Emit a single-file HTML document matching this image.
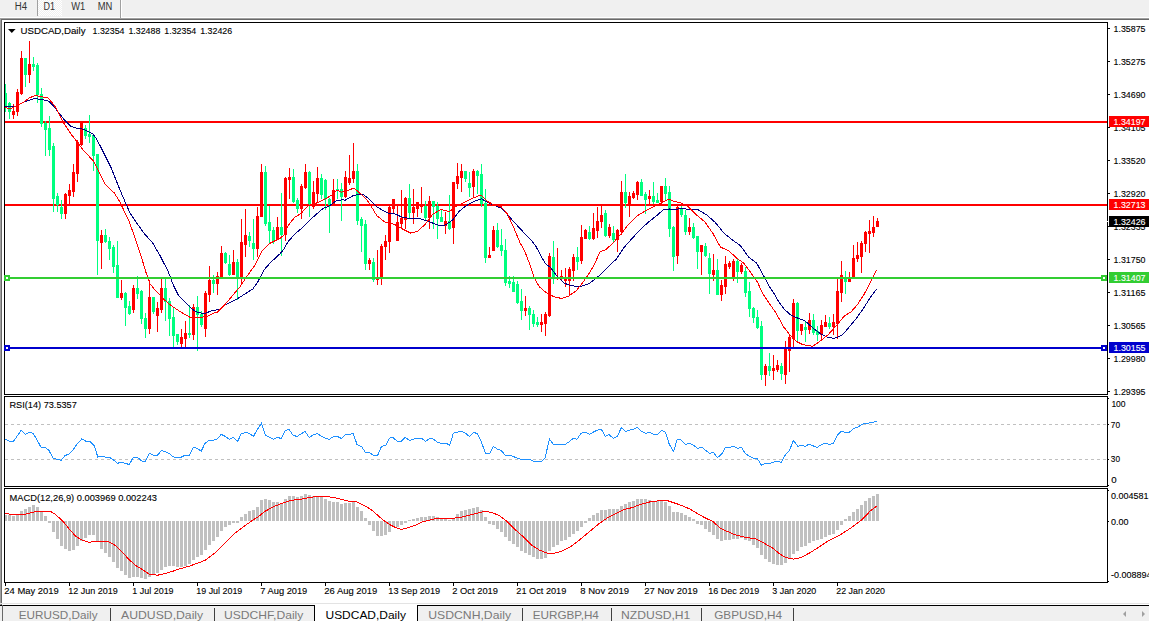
<!DOCTYPE html>
<html><head><meta charset="utf-8"><title>USDCAD,Daily</title>
<style>html,body{margin:0;padding:0;background:#fff;overflow:hidden}body{width:1149px;height:621px}svg{display:block;font-family:"Liberation Sans",sans-serif}text{white-space:pre}</style>
</head><body>
<svg width="1149" height="621" viewBox="0 0 1149 621">
<defs><pattern id="dth" width="2" height="2" patternUnits="userSpaceOnUse"><rect width="2" height="2" fill="#f0f0f0"/><rect width="1" height="1" fill="#fff"/><rect x="1" y="1" width="1" height="1" fill="#fff"/></pattern></defs>
<g shape-rendering="crispEdges">
<rect x="0" y="0" width="1149" height="621" fill="#fff"/>
<rect x="0" y="0" width="1149" height="17" fill="#f0f0f0"/>
<rect x="0" y="17" width="1149" height="1" fill="#ffffff"/>
<rect x="0" y="18" width="1149" height="1" fill="#a0a0a0"/>
<rect x="0" y="19" width="1149" height="1" fill="#696969"/>
<rect x="38" y="0" width="24" height="16" fill="url(#dth)"/>
<rect x="37" y="0" width="1" height="16" fill="#a0a0a0"/>
<rect x="120" y="0" width="1" height="18" fill="#a0a0a0"/>
<rect x="121" y="0" width="1" height="18" fill="#fff"/>
<rect x="0" y="19" width="1" height="586" fill="#a0a0a0"/>
<rect x="1" y="20" width="1" height="585" fill="#696969"/>
<rect x="4" y="22" width="1104" height="1" fill="#000"/>
<rect x="4" y="394" width="1104" height="1" fill="#000"/>
<rect x="4" y="22" width="1" height="373" fill="#000"/>
<rect x="1107" y="22" width="1" height="373" fill="#000"/>
<rect x="4" y="396" width="1104" height="1" fill="#000"/>
<rect x="4" y="486" width="1104" height="1" fill="#000"/>
<rect x="4" y="396" width="1" height="91" fill="#000"/>
<rect x="1107" y="396" width="1" height="91" fill="#000"/>
<rect x="4" y="488" width="1104" height="1" fill="#000"/>
<rect x="4" y="582" width="1104" height="1" fill="#000"/>
<rect x="4" y="488" width="1" height="95" fill="#000"/>
<rect x="1107" y="488" width="1" height="95" fill="#000"/>
<rect x="5" y="121" width="1102" height="2" fill="#ff0000"/>
<rect x="5" y="204" width="1102" height="2" fill="#ff0000"/>
<rect x="5" y="84" width="1" height="28" fill="#00ff7f"/>
<rect x="5" y="93" width="2" height="14" fill="#00ff7f"/>
<rect x="9" y="102" width="1" height="17" fill="#00ff7f"/>
<rect x="8" y="103" width="3" height="9" fill="#00ff7f"/>
<rect x="13" y="104" width="1" height="15" fill="#ff0000"/>
<rect x="12" y="111" width="3" height="4" fill="#ff0000"/>
<rect x="17" y="89" width="1" height="27" fill="#ff0000"/>
<rect x="16" y="92" width="3" height="20" fill="#ff0000"/>
<rect x="21" y="51" width="1" height="44" fill="#ff0000"/>
<rect x="20" y="58" width="3" height="36" fill="#ff0000"/>
<rect x="25" y="58" width="1" height="29" fill="#00ff7f"/>
<rect x="24" y="58" width="3" height="17" fill="#00ff7f"/>
<rect x="29" y="41" width="1" height="42" fill="#ff0000"/>
<rect x="28" y="64" width="3" height="11" fill="#ff0000"/>
<rect x="33" y="57" width="1" height="14" fill="#00ff7f"/>
<rect x="32" y="64" width="3" height="3" fill="#00ff7f"/>
<rect x="37" y="63" width="1" height="40" fill="#00ff7f"/>
<rect x="36" y="65" width="3" height="30" fill="#00ff7f"/>
<rect x="41" y="88" width="1" height="39" fill="#00ff7f"/>
<rect x="40" y="94" width="3" height="30" fill="#00ff7f"/>
<rect x="45" y="121" width="1" height="35" fill="#00ff7f"/>
<rect x="44" y="123" width="3" height="7" fill="#00ff7f"/>
<rect x="49" y="116" width="1" height="40" fill="#00ff7f"/>
<rect x="48" y="128" width="3" height="22" fill="#00ff7f"/>
<rect x="53" y="143" width="1" height="69" fill="#00ff7f"/>
<rect x="52" y="146" width="3" height="53" fill="#00ff7f"/>
<rect x="57" y="193" width="1" height="19" fill="#00ff7f"/>
<rect x="56" y="196" width="3" height="9" fill="#00ff7f"/>
<rect x="61" y="200" width="1" height="19" fill="#00ff7f"/>
<rect x="60" y="207" width="3" height="7" fill="#00ff7f"/>
<rect x="65" y="193" width="1" height="26" fill="#ff0000"/>
<rect x="64" y="194" width="3" height="20" fill="#ff0000"/>
<rect x="69" y="184" width="1" height="21" fill="#ff0000"/>
<rect x="68" y="190" width="3" height="6" fill="#ff0000"/>
<rect x="73" y="164" width="1" height="33" fill="#ff0000"/>
<rect x="72" y="172" width="3" height="20" fill="#ff0000"/>
<rect x="77" y="140" width="1" height="42" fill="#ff0000"/>
<rect x="76" y="142" width="3" height="32" fill="#ff0000"/>
<rect x="81" y="121" width="1" height="25" fill="#ff0000"/>
<rect x="80" y="123" width="3" height="22" fill="#ff0000"/>
<rect x="85" y="125" width="1" height="14" fill="#00ff7f"/>
<rect x="84" y="128" width="3" height="8" fill="#00ff7f"/>
<rect x="89" y="115" width="1" height="28" fill="#00ff7f"/>
<rect x="88" y="134" width="3" height="3" fill="#00ff7f"/>
<rect x="93" y="134" width="1" height="37" fill="#00ff7f"/>
<rect x="92" y="135" width="3" height="21" fill="#00ff7f"/>
<rect x="97" y="154" width="1" height="121" fill="#00ff7f"/>
<rect x="96" y="154" width="3" height="87" fill="#00ff7f"/>
<rect x="101" y="230" width="1" height="39" fill="#ff0000"/>
<rect x="100" y="235" width="3" height="8" fill="#ff0000"/>
<rect x="105" y="229" width="1" height="14" fill="#00ff7f"/>
<rect x="104" y="235" width="3" height="7" fill="#00ff7f"/>
<rect x="109" y="237" width="1" height="23" fill="#00ff7f"/>
<rect x="108" y="241" width="3" height="8" fill="#00ff7f"/>
<rect x="113" y="245" width="1" height="28" fill="#00ff7f"/>
<rect x="112" y="247" width="3" height="20" fill="#00ff7f"/>
<rect x="117" y="241" width="1" height="57" fill="#00ff7f"/>
<rect x="116" y="265" width="3" height="33" fill="#00ff7f"/>
<rect x="121" y="280" width="1" height="20" fill="#ff0000"/>
<rect x="120" y="293" width="3" height="5" fill="#ff0000"/>
<rect x="125" y="292" width="1" height="34" fill="#00ff7f"/>
<rect x="124" y="293" width="3" height="15" fill="#00ff7f"/>
<rect x="129" y="301" width="1" height="14" fill="#00ff7f"/>
<rect x="128" y="306" width="3" height="8" fill="#00ff7f"/>
<rect x="133" y="285" width="1" height="28" fill="#ff0000"/>
<rect x="132" y="288" width="3" height="22" fill="#ff0000"/>
<rect x="137" y="276" width="1" height="23" fill="#00ff7f"/>
<rect x="136" y="288" width="3" height="6" fill="#00ff7f"/>
<rect x="141" y="290" width="1" height="34" fill="#00ff7f"/>
<rect x="140" y="291" width="3" height="28" fill="#00ff7f"/>
<rect x="145" y="313" width="1" height="25" fill="#00ff7f"/>
<rect x="144" y="318" width="3" height="11" fill="#00ff7f"/>
<rect x="149" y="280" width="1" height="54" fill="#ff0000"/>
<rect x="148" y="297" width="3" height="32" fill="#ff0000"/>
<rect x="153" y="297" width="1" height="17" fill="#00ff7f"/>
<rect x="152" y="297" width="3" height="15" fill="#00ff7f"/>
<rect x="157" y="302" width="1" height="30" fill="#ff0000"/>
<rect x="156" y="308" width="3" height="8" fill="#ff0000"/>
<rect x="161" y="279" width="1" height="34" fill="#ff0000"/>
<rect x="160" y="288" width="3" height="22" fill="#ff0000"/>
<rect x="165" y="279" width="1" height="42" fill="#00ff7f"/>
<rect x="164" y="288" width="3" height="14" fill="#00ff7f"/>
<rect x="169" y="298" width="1" height="38" fill="#00ff7f"/>
<rect x="168" y="301" width="3" height="18" fill="#00ff7f"/>
<rect x="173" y="308" width="1" height="40" fill="#00ff7f"/>
<rect x="172" y="317" width="3" height="19" fill="#00ff7f"/>
<rect x="177" y="334" width="1" height="11" fill="#00ff7f"/>
<rect x="176" y="334" width="3" height="8" fill="#00ff7f"/>
<rect x="181" y="329" width="1" height="19" fill="#ff0000"/>
<rect x="180" y="337" width="3" height="7" fill="#ff0000"/>
<rect x="185" y="321" width="1" height="26" fill="#ff0000"/>
<rect x="184" y="333" width="3" height="6" fill="#ff0000"/>
<rect x="189" y="305" width="1" height="33" fill="#00ff7f"/>
<rect x="188" y="333" width="3" height="2" fill="#00ff7f"/>
<rect x="193" y="304" width="1" height="36" fill="#ff0000"/>
<rect x="192" y="307" width="3" height="28" fill="#ff0000"/>
<rect x="197" y="296" width="1" height="55" fill="#00ff7f"/>
<rect x="196" y="307" width="3" height="8" fill="#00ff7f"/>
<rect x="201" y="311" width="1" height="16" fill="#00ff7f"/>
<rect x="200" y="314" width="3" height="11" fill="#00ff7f"/>
<rect x="205" y="291" width="1" height="46" fill="#ff0000"/>
<rect x="204" y="293" width="3" height="36" fill="#ff0000"/>
<rect x="209" y="266" width="1" height="36" fill="#ff0000"/>
<rect x="208" y="280" width="3" height="15" fill="#ff0000"/>
<rect x="213" y="275" width="1" height="18" fill="#00ff7f"/>
<rect x="212" y="280" width="3" height="4" fill="#00ff7f"/>
<rect x="217" y="272" width="1" height="23" fill="#ff0000"/>
<rect x="216" y="276" width="3" height="8" fill="#ff0000"/>
<rect x="221" y="246" width="1" height="32" fill="#ff0000"/>
<rect x="220" y="253" width="3" height="25" fill="#ff0000"/>
<rect x="225" y="252" width="1" height="12" fill="#00ff7f"/>
<rect x="224" y="253" width="3" height="10" fill="#00ff7f"/>
<rect x="229" y="255" width="1" height="21" fill="#00ff7f"/>
<rect x="228" y="264" width="3" height="11" fill="#00ff7f"/>
<rect x="233" y="250" width="1" height="25" fill="#ff0000"/>
<rect x="232" y="262" width="3" height="13" fill="#ff0000"/>
<rect x="237" y="259" width="1" height="41" fill="#00ff7f"/>
<rect x="236" y="262" width="3" height="17" fill="#00ff7f"/>
<rect x="241" y="219" width="1" height="66" fill="#ff0000"/>
<rect x="240" y="242" width="3" height="36" fill="#ff0000"/>
<rect x="245" y="209" width="1" height="48" fill="#ff0000"/>
<rect x="244" y="235" width="3" height="10" fill="#ff0000"/>
<rect x="249" y="232" width="1" height="15" fill="#00ff7f"/>
<rect x="248" y="236" width="3" height="5" fill="#00ff7f"/>
<rect x="253" y="219" width="1" height="41" fill="#00ff7f"/>
<rect x="252" y="243" width="3" height="6" fill="#00ff7f"/>
<rect x="257" y="207" width="1" height="50" fill="#ff0000"/>
<rect x="256" y="216" width="3" height="33" fill="#ff0000"/>
<rect x="261" y="164" width="1" height="53" fill="#ff0000"/>
<rect x="260" y="172" width="3" height="45" fill="#ff0000"/>
<rect x="265" y="166" width="1" height="60" fill="#00ff7f"/>
<rect x="264" y="172" width="3" height="52" fill="#00ff7f"/>
<rect x="269" y="206" width="1" height="38" fill="#00ff7f"/>
<rect x="268" y="222" width="3" height="9" fill="#00ff7f"/>
<rect x="273" y="227" width="1" height="17" fill="#00ff7f"/>
<rect x="272" y="230" width="3" height="11" fill="#00ff7f"/>
<rect x="277" y="217" width="1" height="23" fill="#ff0000"/>
<rect x="276" y="227" width="3" height="13" fill="#ff0000"/>
<rect x="281" y="193" width="1" height="63" fill="#00ff7f"/>
<rect x="280" y="227" width="3" height="8" fill="#00ff7f"/>
<rect x="285" y="177" width="1" height="64" fill="#ff0000"/>
<rect x="284" y="178" width="3" height="57" fill="#ff0000"/>
<rect x="289" y="168" width="1" height="31" fill="#ff0000"/>
<rect x="288" y="177" width="3" height="3" fill="#ff0000"/>
<rect x="293" y="169" width="1" height="34" fill="#00ff7f"/>
<rect x="292" y="177" width="3" height="25" fill="#00ff7f"/>
<rect x="297" y="198" width="1" height="15" fill="#00ff7f"/>
<rect x="296" y="200" width="3" height="9" fill="#00ff7f"/>
<rect x="301" y="184" width="1" height="35" fill="#ff0000"/>
<rect x="300" y="186" width="3" height="23" fill="#ff0000"/>
<rect x="305" y="164" width="1" height="25" fill="#ff0000"/>
<rect x="304" y="172" width="3" height="16" fill="#ff0000"/>
<rect x="309" y="171" width="1" height="46" fill="#00ff7f"/>
<rect x="308" y="172" width="3" height="32" fill="#00ff7f"/>
<rect x="313" y="181" width="1" height="28" fill="#ff0000"/>
<rect x="312" y="192" width="3" height="15" fill="#ff0000"/>
<rect x="317" y="167" width="1" height="36" fill="#ff0000"/>
<rect x="316" y="178" width="3" height="16" fill="#ff0000"/>
<rect x="321" y="174" width="1" height="25" fill="#00ff7f"/>
<rect x="320" y="178" width="3" height="17" fill="#00ff7f"/>
<rect x="325" y="179" width="1" height="31" fill="#00ff7f"/>
<rect x="324" y="180" width="3" height="19" fill="#00ff7f"/>
<rect x="329" y="198" width="1" height="35" fill="#00ff7f"/>
<rect x="328" y="199" width="3" height="6" fill="#00ff7f"/>
<rect x="333" y="179" width="1" height="27" fill="#ff0000"/>
<rect x="332" y="190" width="3" height="15" fill="#ff0000"/>
<rect x="337" y="179" width="1" height="20" fill="#00ff7f"/>
<rect x="336" y="189" width="3" height="2" fill="#00ff7f"/>
<rect x="341" y="183" width="1" height="38" fill="#00ff7f"/>
<rect x="340" y="189" width="3" height="8" fill="#00ff7f"/>
<rect x="345" y="171" width="1" height="27" fill="#ff0000"/>
<rect x="344" y="177" width="3" height="20" fill="#ff0000"/>
<rect x="349" y="155" width="1" height="30" fill="#ff0000"/>
<rect x="348" y="178" width="3" height="5" fill="#ff0000"/>
<rect x="353" y="143" width="1" height="40" fill="#ff0000"/>
<rect x="352" y="171" width="3" height="8" fill="#ff0000"/>
<rect x="357" y="164" width="1" height="61" fill="#00ff7f"/>
<rect x="356" y="171" width="3" height="50" fill="#00ff7f"/>
<rect x="361" y="217" width="1" height="35" fill="#00ff7f"/>
<rect x="360" y="219" width="3" height="7" fill="#00ff7f"/>
<rect x="365" y="220" width="1" height="50" fill="#00ff7f"/>
<rect x="364" y="224" width="3" height="40" fill="#00ff7f"/>
<rect x="369" y="258" width="1" height="12" fill="#ff0000"/>
<rect x="368" y="260" width="3" height="4" fill="#ff0000"/>
<rect x="373" y="258" width="1" height="24" fill="#00ff7f"/>
<rect x="372" y="262" width="3" height="18" fill="#00ff7f"/>
<rect x="377" y="250" width="1" height="35" fill="#ff0000"/>
<rect x="376" y="278" width="3" height="2" fill="#ff0000"/>
<rect x="381" y="244" width="1" height="41" fill="#ff0000"/>
<rect x="380" y="246" width="3" height="33" fill="#ff0000"/>
<rect x="385" y="235" width="1" height="25" fill="#ff0000"/>
<rect x="384" y="241" width="3" height="6" fill="#ff0000"/>
<rect x="389" y="206" width="1" height="47" fill="#ff0000"/>
<rect x="388" y="207" width="3" height="35" fill="#ff0000"/>
<rect x="393" y="199" width="1" height="14" fill="#ff0000"/>
<rect x="392" y="199" width="3" height="10" fill="#ff0000"/>
<rect x="397" y="206" width="1" height="35" fill="#ff0000"/>
<rect x="396" y="222" width="3" height="19" fill="#ff0000"/>
<rect x="401" y="190" width="1" height="38" fill="#ff0000"/>
<rect x="400" y="218" width="3" height="6" fill="#ff0000"/>
<rect x="405" y="197" width="1" height="32" fill="#ff0000"/>
<rect x="404" y="198" width="3" height="22" fill="#ff0000"/>
<rect x="409" y="184" width="1" height="35" fill="#00ff7f"/>
<rect x="408" y="198" width="3" height="15" fill="#00ff7f"/>
<rect x="413" y="189" width="1" height="35" fill="#ff0000"/>
<rect x="412" y="207" width="3" height="6" fill="#ff0000"/>
<rect x="417" y="202" width="1" height="15" fill="#ff0000"/>
<rect x="416" y="202" width="3" height="7" fill="#ff0000"/>
<rect x="421" y="187" width="1" height="26" fill="#ff0000"/>
<rect x="420" y="204" width="3" height="3" fill="#ff0000"/>
<rect x="425" y="201" width="1" height="20" fill="#00ff7f"/>
<rect x="424" y="206" width="3" height="12" fill="#00ff7f"/>
<rect x="429" y="196" width="1" height="33" fill="#ff0000"/>
<rect x="428" y="201" width="3" height="17" fill="#ff0000"/>
<rect x="433" y="201" width="1" height="28" fill="#00ff7f"/>
<rect x="432" y="201" width="3" height="6" fill="#00ff7f"/>
<rect x="437" y="202" width="1" height="37" fill="#00ff7f"/>
<rect x="436" y="206" width="3" height="13" fill="#00ff7f"/>
<rect x="441" y="210" width="1" height="12" fill="#00ff7f"/>
<rect x="440" y="217" width="3" height="5" fill="#00ff7f"/>
<rect x="445" y="212" width="1" height="22" fill="#ff0000"/>
<rect x="444" y="221" width="3" height="5" fill="#ff0000"/>
<rect x="449" y="195" width="1" height="35" fill="#00ff7f"/>
<rect x="448" y="221" width="3" height="8" fill="#00ff7f"/>
<rect x="453" y="182" width="1" height="62" fill="#ff0000"/>
<rect x="452" y="182" width="3" height="46" fill="#ff0000"/>
<rect x="457" y="163" width="1" height="26" fill="#ff0000"/>
<rect x="456" y="176" width="3" height="8" fill="#ff0000"/>
<rect x="461" y="164" width="1" height="28" fill="#ff0000"/>
<rect x="460" y="171" width="3" height="7" fill="#ff0000"/>
<rect x="465" y="171" width="1" height="11" fill="#00ff7f"/>
<rect x="464" y="171" width="3" height="8" fill="#00ff7f"/>
<rect x="469" y="172" width="1" height="25" fill="#00ff7f"/>
<rect x="468" y="183" width="3" height="5" fill="#00ff7f"/>
<rect x="473" y="169" width="1" height="29" fill="#ff0000"/>
<rect x="472" y="171" width="3" height="16" fill="#ff0000"/>
<rect x="477" y="170" width="1" height="24" fill="#00ff7f"/>
<rect x="476" y="171" width="3" height="5" fill="#00ff7f"/>
<rect x="481" y="164" width="1" height="43" fill="#00ff7f"/>
<rect x="480" y="174" width="3" height="30" fill="#00ff7f"/>
<rect x="485" y="189" width="1" height="74" fill="#00ff7f"/>
<rect x="484" y="203" width="3" height="55" fill="#00ff7f"/>
<rect x="489" y="247" width="1" height="11" fill="#ff0000"/>
<rect x="488" y="255" width="3" height="3" fill="#ff0000"/>
<rect x="493" y="226" width="1" height="25" fill="#ff0000"/>
<rect x="492" y="230" width="3" height="21" fill="#ff0000"/>
<rect x="497" y="223" width="1" height="25" fill="#00ff7f"/>
<rect x="496" y="230" width="3" height="17" fill="#00ff7f"/>
<rect x="501" y="229" width="1" height="27" fill="#00ff7f"/>
<rect x="500" y="245" width="3" height="6" fill="#00ff7f"/>
<rect x="505" y="239" width="1" height="47" fill="#00ff7f"/>
<rect x="504" y="250" width="3" height="33" fill="#00ff7f"/>
<rect x="509" y="276" width="1" height="12" fill="#00ff7f"/>
<rect x="508" y="281" width="3" height="3" fill="#00ff7f"/>
<rect x="513" y="276" width="1" height="16" fill="#00ff7f"/>
<rect x="512" y="282" width="3" height="10" fill="#00ff7f"/>
<rect x="517" y="281" width="1" height="23" fill="#00ff7f"/>
<rect x="516" y="284" width="3" height="19" fill="#00ff7f"/>
<rect x="521" y="289" width="1" height="31" fill="#00ff7f"/>
<rect x="520" y="301" width="3" height="10" fill="#00ff7f"/>
<rect x="525" y="296" width="1" height="20" fill="#ff0000"/>
<rect x="524" y="308" width="3" height="3" fill="#ff0000"/>
<rect x="529" y="306" width="1" height="24" fill="#00ff7f"/>
<rect x="528" y="308" width="3" height="7" fill="#00ff7f"/>
<rect x="533" y="310" width="1" height="17" fill="#00ff7f"/>
<rect x="532" y="314" width="3" height="10" fill="#00ff7f"/>
<rect x="537" y="317" width="1" height="10" fill="#00ff7f"/>
<rect x="536" y="322" width="3" height="3" fill="#00ff7f"/>
<rect x="541" y="314" width="1" height="18" fill="#ff0000"/>
<rect x="540" y="322" width="3" height="3" fill="#ff0000"/>
<rect x="545" y="312" width="1" height="24" fill="#ff0000"/>
<rect x="544" y="314" width="3" height="10" fill="#ff0000"/>
<rect x="549" y="253" width="1" height="64" fill="#ff0000"/>
<rect x="548" y="256" width="3" height="60" fill="#ff0000"/>
<rect x="553" y="241" width="1" height="43" fill="#00ff7f"/>
<rect x="552" y="257" width="3" height="22" fill="#00ff7f"/>
<rect x="557" y="248" width="1" height="32" fill="#ff0000"/>
<rect x="556" y="277" width="3" height="2" fill="#ff0000"/>
<rect x="561" y="270" width="1" height="11" fill="#ff0000"/>
<rect x="560" y="276" width="3" height="3" fill="#ff0000"/>
<rect x="565" y="268" width="1" height="19" fill="#ff0000"/>
<rect x="564" y="278" width="3" height="3" fill="#ff0000"/>
<rect x="569" y="267" width="1" height="28" fill="#ff0000"/>
<rect x="568" y="269" width="3" height="12" fill="#ff0000"/>
<rect x="573" y="254" width="1" height="27" fill="#ff0000"/>
<rect x="572" y="257" width="3" height="14" fill="#ff0000"/>
<rect x="577" y="247" width="1" height="23" fill="#00ff7f"/>
<rect x="576" y="257" width="3" height="5" fill="#00ff7f"/>
<rect x="581" y="225" width="1" height="39" fill="#ff0000"/>
<rect x="580" y="237" width="3" height="24" fill="#ff0000"/>
<rect x="585" y="229" width="1" height="10" fill="#ff0000"/>
<rect x="584" y="230" width="3" height="9" fill="#ff0000"/>
<rect x="589" y="226" width="1" height="14" fill="#00ff7f"/>
<rect x="588" y="232" width="3" height="7" fill="#00ff7f"/>
<rect x="593" y="213" width="1" height="27" fill="#ff0000"/>
<rect x="592" y="228" width="3" height="11" fill="#ff0000"/>
<rect x="597" y="207" width="1" height="31" fill="#ff0000"/>
<rect x="596" y="221" width="3" height="10" fill="#ff0000"/>
<rect x="601" y="206" width="1" height="22" fill="#ff0000"/>
<rect x="600" y="215" width="3" height="7" fill="#ff0000"/>
<rect x="605" y="210" width="1" height="27" fill="#00ff7f"/>
<rect x="604" y="213" width="3" height="23" fill="#00ff7f"/>
<rect x="609" y="224" width="1" height="14" fill="#ff0000"/>
<rect x="608" y="227" width="3" height="9" fill="#ff0000"/>
<rect x="613" y="226" width="1" height="16" fill="#00ff7f"/>
<rect x="612" y="233" width="3" height="7" fill="#00ff7f"/>
<rect x="617" y="229" width="1" height="23" fill="#ff0000"/>
<rect x="616" y="230" width="3" height="10" fill="#ff0000"/>
<rect x="621" y="181" width="1" height="54" fill="#ff0000"/>
<rect x="620" y="192" width="3" height="40" fill="#ff0000"/>
<rect x="625" y="174" width="1" height="34" fill="#00ff7f"/>
<rect x="624" y="192" width="3" height="11" fill="#00ff7f"/>
<rect x="629" y="192" width="1" height="25" fill="#ff0000"/>
<rect x="628" y="196" width="3" height="8" fill="#ff0000"/>
<rect x="633" y="191" width="1" height="8" fill="#ff0000"/>
<rect x="632" y="193" width="3" height="5" fill="#ff0000"/>
<rect x="637" y="181" width="1" height="19" fill="#ff0000"/>
<rect x="636" y="182" width="3" height="13" fill="#ff0000"/>
<rect x="641" y="179" width="1" height="17" fill="#00ff7f"/>
<rect x="640" y="182" width="3" height="14" fill="#00ff7f"/>
<rect x="645" y="192" width="1" height="22" fill="#00ff7f"/>
<rect x="644" y="194" width="3" height="6" fill="#00ff7f"/>
<rect x="649" y="190" width="1" height="16" fill="#ff0000"/>
<rect x="648" y="196" width="3" height="3" fill="#ff0000"/>
<rect x="653" y="182" width="1" height="22" fill="#00ff7f"/>
<rect x="652" y="196" width="3" height="6" fill="#00ff7f"/>
<rect x="657" y="193" width="1" height="10" fill="#00ff7f"/>
<rect x="656" y="200" width="3" height="3" fill="#00ff7f"/>
<rect x="661" y="186" width="1" height="19" fill="#ff0000"/>
<rect x="660" y="186" width="3" height="16" fill="#ff0000"/>
<rect x="665" y="178" width="1" height="23" fill="#00ff7f"/>
<rect x="664" y="186" width="3" height="8" fill="#00ff7f"/>
<rect x="669" y="186" width="1" height="51" fill="#00ff7f"/>
<rect x="668" y="192" width="3" height="37" fill="#00ff7f"/>
<rect x="673" y="226" width="1" height="45" fill="#00ff7f"/>
<rect x="672" y="227" width="3" height="30" fill="#00ff7f"/>
<rect x="677" y="206" width="1" height="58" fill="#ff0000"/>
<rect x="676" y="207" width="3" height="49" fill="#ff0000"/>
<rect x="681" y="206" width="1" height="11" fill="#00ff7f"/>
<rect x="680" y="208" width="3" height="7" fill="#00ff7f"/>
<rect x="685" y="210" width="1" height="25" fill="#00ff7f"/>
<rect x="684" y="215" width="3" height="17" fill="#00ff7f"/>
<rect x="689" y="218" width="1" height="17" fill="#ff0000"/>
<rect x="688" y="227" width="3" height="5" fill="#ff0000"/>
<rect x="693" y="223" width="1" height="16" fill="#00ff7f"/>
<rect x="692" y="227" width="3" height="11" fill="#00ff7f"/>
<rect x="697" y="236" width="1" height="33" fill="#00ff7f"/>
<rect x="696" y="236" width="3" height="16" fill="#00ff7f"/>
<rect x="701" y="245" width="1" height="30" fill="#ff0000"/>
<rect x="700" y="245" width="3" height="7" fill="#ff0000"/>
<rect x="705" y="243" width="1" height="14" fill="#00ff7f"/>
<rect x="704" y="246" width="3" height="10" fill="#00ff7f"/>
<rect x="709" y="253" width="1" height="41" fill="#00ff7f"/>
<rect x="708" y="258" width="3" height="16" fill="#00ff7f"/>
<rect x="713" y="254" width="1" height="27" fill="#ff0000"/>
<rect x="712" y="270" width="3" height="5" fill="#ff0000"/>
<rect x="717" y="259" width="1" height="36" fill="#00ff7f"/>
<rect x="716" y="270" width="3" height="25" fill="#00ff7f"/>
<rect x="721" y="280" width="1" height="21" fill="#ff0000"/>
<rect x="720" y="285" width="3" height="10" fill="#ff0000"/>
<rect x="725" y="256" width="1" height="38" fill="#ff0000"/>
<rect x="724" y="264" width="3" height="23" fill="#ff0000"/>
<rect x="729" y="261" width="1" height="8" fill="#ff0000"/>
<rect x="728" y="263" width="3" height="4" fill="#ff0000"/>
<rect x="733" y="259" width="1" height="22" fill="#ff0000"/>
<rect x="732" y="261" width="3" height="17" fill="#ff0000"/>
<rect x="737" y="259" width="1" height="24" fill="#00ff7f"/>
<rect x="736" y="261" width="3" height="11" fill="#00ff7f"/>
<rect x="741" y="263" width="1" height="11" fill="#ff0000"/>
<rect x="740" y="265" width="3" height="7" fill="#ff0000"/>
<rect x="745" y="267" width="1" height="30" fill="#00ff7f"/>
<rect x="744" y="271" width="3" height="22" fill="#00ff7f"/>
<rect x="749" y="282" width="1" height="35" fill="#00ff7f"/>
<rect x="748" y="291" width="3" height="18" fill="#00ff7f"/>
<rect x="753" y="307" width="1" height="16" fill="#00ff7f"/>
<rect x="752" y="308" width="3" height="10" fill="#00ff7f"/>
<rect x="757" y="310" width="1" height="19" fill="#00ff7f"/>
<rect x="756" y="317" width="3" height="11" fill="#00ff7f"/>
<rect x="761" y="321" width="1" height="59" fill="#00ff7f"/>
<rect x="760" y="326" width="3" height="49" fill="#00ff7f"/>
<rect x="765" y="364" width="1" height="22" fill="#ff0000"/>
<rect x="764" y="366" width="3" height="9" fill="#ff0000"/>
<rect x="769" y="353" width="1" height="23" fill="#00ff7f"/>
<rect x="768" y="366" width="3" height="5" fill="#00ff7f"/>
<rect x="773" y="355" width="1" height="25" fill="#ff0000"/>
<rect x="772" y="368" width="3" height="3" fill="#ff0000"/>
<rect x="777" y="360" width="1" height="12" fill="#ff0000"/>
<rect x="776" y="365" width="3" height="5" fill="#ff0000"/>
<rect x="781" y="363" width="1" height="17" fill="#00ff7f"/>
<rect x="780" y="366" width="3" height="8" fill="#00ff7f"/>
<rect x="785" y="341" width="1" height="43" fill="#ff0000"/>
<rect x="784" y="348" width="3" height="27" fill="#ff0000"/>
<rect x="789" y="335" width="1" height="37" fill="#ff0000"/>
<rect x="788" y="337" width="3" height="14" fill="#ff0000"/>
<rect x="793" y="299" width="1" height="48" fill="#ff0000"/>
<rect x="792" y="303" width="3" height="36" fill="#ff0000"/>
<rect x="797" y="302" width="1" height="40" fill="#00ff7f"/>
<rect x="796" y="303" width="3" height="28" fill="#00ff7f"/>
<rect x="801" y="324" width="1" height="11" fill="#ff0000"/>
<rect x="800" y="324" width="3" height="7" fill="#ff0000"/>
<rect x="805" y="322" width="1" height="20" fill="#00ff7f"/>
<rect x="804" y="327" width="3" height="3" fill="#00ff7f"/>
<rect x="809" y="313" width="1" height="21" fill="#ff0000"/>
<rect x="808" y="320" width="3" height="10" fill="#ff0000"/>
<rect x="813" y="314" width="1" height="21" fill="#00ff7f"/>
<rect x="812" y="320" width="3" height="13" fill="#00ff7f"/>
<rect x="817" y="326" width="1" height="15" fill="#00ff7f"/>
<rect x="816" y="331" width="3" height="4" fill="#00ff7f"/>
<rect x="821" y="320" width="1" height="21" fill="#ff0000"/>
<rect x="820" y="325" width="3" height="10" fill="#ff0000"/>
<rect x="825" y="315" width="1" height="12" fill="#ff0000"/>
<rect x="824" y="322" width="3" height="5" fill="#ff0000"/>
<rect x="829" y="317" width="1" height="12" fill="#00ff7f"/>
<rect x="828" y="323" width="3" height="4" fill="#00ff7f"/>
<rect x="833" y="314" width="1" height="21" fill="#ff0000"/>
<rect x="832" y="322" width="3" height="5" fill="#ff0000"/>
<rect x="837" y="278" width="1" height="61" fill="#ff0000"/>
<rect x="836" y="291" width="3" height="33" fill="#ff0000"/>
<rect x="841" y="261" width="1" height="41" fill="#ff0000"/>
<rect x="840" y="275" width="3" height="18" fill="#ff0000"/>
<rect x="845" y="271" width="1" height="23" fill="#00ff7f"/>
<rect x="844" y="277" width="3" height="5" fill="#00ff7f"/>
<rect x="849" y="272" width="1" height="10" fill="#ff0000"/>
<rect x="848" y="278" width="3" height="4" fill="#ff0000"/>
<rect x="853" y="245" width="1" height="32" fill="#ff0000"/>
<rect x="852" y="258" width="3" height="19" fill="#ff0000"/>
<rect x="857" y="242" width="1" height="20" fill="#ff0000"/>
<rect x="856" y="255" width="3" height="4" fill="#ff0000"/>
<rect x="861" y="241" width="1" height="32" fill="#ff0000"/>
<rect x="860" y="243" width="3" height="14" fill="#ff0000"/>
<rect x="865" y="231" width="1" height="21" fill="#ff0000"/>
<rect x="864" y="232" width="3" height="12" fill="#ff0000"/>
<rect x="869" y="220" width="1" height="33" fill="#ff0000"/>
<rect x="868" y="231" width="3" height="3" fill="#ff0000"/>
<rect x="873" y="216" width="1" height="21" fill="#ff0000"/>
<rect x="872" y="227" width="3" height="6" fill="#ff0000"/>
<rect x="877" y="218" width="1" height="9" fill="#ff0000"/>
<rect x="876" y="221" width="3" height="6" fill="#ff0000"/>
</g>
<polyline points="5.0,107.0 9.7,106.0 16.0,106.0 24.0,102.0 33.8,98.6 41.9,99.4 48.3,101.0 54.8,107.5 64.4,120.0 70.9,126.2 77.3,128.4 83.7,129.3 92.6,133.7 96.6,139.0 103.0,151.4 111.0,167.5 120.0,190.0 124.3,200.0 130.0,213.0 136.4,222.5 144.4,233.8 152.5,242.7 160.5,256.4 168.6,272.5 173.4,285.3 178.2,295.0 183.0,300.0 187.0,303.8 192.6,309.5 198.2,312.7 204.7,313.5 212.7,310.3 219.3,309.7 225.8,304.6 237.0,299.0 246.7,292.8 253.0,288.8 258.0,281.5 264.4,269.5 270.9,262.2 280.5,253.3 284.0,249.0 288.0,241.8 294.4,234.5 300.9,228.9 307.3,222.5 315.3,215.2 322.6,208.8 329.8,205.6 336.3,200.7 342.7,199.8 345.3,200.2 352.5,196.0 357.4,194.6 363.8,195.0 370.3,200.0 376.7,206.7 384.8,211.5 389.6,214.0 394.4,213.6 402.5,217.4 410.5,218.4 420.0,218.7 429.8,222.0 437.9,225.0 445.3,225.0 452.5,220.2 459.0,211.4 465.4,206.2 473.5,201.7 481.5,198.8 488.0,202.5 494.4,205.2 500.9,208.0 507.3,214.6 515.3,223.4 525.0,233.9 531.0,240.0 536.0,246.4 540.9,256.0 545.7,264.0 550.5,267.4 557.0,276.0 563.4,282.7 569.8,285.4 579.5,286.7 586.0,284.8 590.0,283.0 600.0,275.0 610.0,265.0 616.4,259.0 624.4,247.0 632.5,238.0 640.5,229.4 648.6,222.0 656.6,215.7 663.9,209.3 669.5,209.0 674.3,210.0 681.0,208.0 689.0,209.5 698.6,210.0 706.7,215.0 714.8,222.0 724.4,233.6 732.5,240.0 740.5,245.7 748.6,257.0 756.6,263.0 763.0,274.7 769.5,286.8 774.3,294.0 777.3,299.7 783.7,308.5 789.4,314.0 796.6,317.7 804.7,320.6 812.7,327.8 820.3,333.7 828.3,337.8 834.8,338.2 842.0,335.3 847.6,329.0 855.7,319.2 863.7,308.0 870.2,297.5 876.6,289.0" fill="none" stroke="#000080" stroke-width="1" shape-rendering="crispEdges"/>
<polyline points="5.0,107.5 9.7,109.0 16.0,106.0 24.0,102.0 29.0,98.0 35.4,95.4 48.3,98.0 54.8,106.0 63.6,123.0 70.9,134.0 75.0,139.0 83.7,150.6 93.4,161.0 104.7,183.6 114.3,193.0 120.0,202.0 122.7,208.0 128.3,219.3 134.7,237.0 141.2,256.4 146.0,272.5 150.0,283.7 155.7,291.0 160.5,295.0 164.4,299.8 170.9,305.4 180.5,311.9 189.4,317.0 196.6,317.5 206.3,316.7 212.7,313.5 217.7,312.0 224.0,305.7 232.2,296.0 240.3,286.4 246.7,276.7 254.7,265.4 262.0,251.0 269.2,243.7 280.5,238.0 284.0,235.0 288.0,225.7 294.4,217.6 300.9,213.6 307.3,206.4 317.0,202.8 325.0,199.0 333.0,194.3 337.0,189.8 341.0,192.2 347.7,190.6 354.0,188.0 360.6,193.8 367.0,200.0 371.9,207.5 376.7,215.5 384.8,222.0 394.4,224.4 402.5,229.0 410.5,233.0 417.8,231.3 425.0,224.4 433.0,214.0 441.0,209.4 449.3,211.7 455.8,206.5 462.2,203.3 471.9,198.5 480.7,195.0 488.0,201.7 494.4,205.2 500.9,206.5 507.3,213.8 513.7,227.5 520.0,242.8 524.8,251.3 530.4,265.8 534.4,277.8 539.2,286.7 545.7,292.3 553.7,296.7 561.8,298.5 568.2,296.4 576.3,290.7 582.7,282.7 590.0,272.0 594.0,265.0 600.0,252.0 606.0,249.5 613.0,243.0 621.0,234.0 629.0,223.8 637.3,215.7 645.3,210.9 653.4,207.0 661.4,202.8 668.7,199.0 674.3,201.7 680.0,202.4 687.4,206.0 695.4,214.0 705.0,222.0 713.0,233.6 720.4,247.0 729.0,251.0 737.3,258.6 743.7,263.0 750.0,271.5 757.4,282.0 763.0,294.0 767.6,301.0 775.7,312.5 783.7,327.0 790.0,335.0 796.6,341.5 803.0,344.7 812.7,346.3 820.3,341.0 828.3,334.5 836.4,325.7 844.4,316.0 850.9,312.0 857.3,304.8 863.7,295.0 870.2,283.0 876.6,270.0" fill="none" stroke="#ff0000" stroke-width="1" shape-rendering="crispEdges"/>
<g shape-rendering="crispEdges">
<rect x="5" y="277" width="1102" height="2" fill="#32cd32"/>
<rect x="5" y="347" width="1102" height="2" fill="#0000cd"/>
<rect x="4" y="275" width="6" height="6" fill="#32cd32"/>
<rect x="6" y="277" width="2" height="2" fill="#fff"/>
<rect x="1101" y="275" width="6" height="6" fill="#32cd32"/>
<rect x="1103" y="277" width="2" height="2" fill="#fff"/>
<rect x="4" y="345" width="6" height="6" fill="#0000cd"/>
<rect x="6" y="347" width="2" height="2" fill="#fff"/>
<rect x="1101" y="345" width="6" height="6" fill="#0000cd"/>
<rect x="1103" y="347" width="2" height="2" fill="#fff"/>
<line x1="5" y1="424.5" x2="1107" y2="424.5" stroke="#c0c0c0" stroke-width="1" stroke-dasharray="3 3"/>
<line x1="5" y1="459.5" x2="1107" y2="459.5" stroke="#c0c0c0" stroke-width="1" stroke-dasharray="3 3"/>
</g>
<polyline points="5.5,439.0 9.5,441.2 13.4,441.4 17.4,435.8 21.3,430.2 25.2,434.3 29.2,432.2 33.1,433.3 37.0,440.0 41.0,447.2 45.0,447.2 48.9,450.4 53.2,458.2 57.6,459.4 61.2,460.3 65.0,455.6 69.4,453.8 73.3,449.6 77.3,443.7 81.7,439.0 86.0,441.2 89.9,441.4 94.2,445.6 97.8,457.0 101.7,456.2 105.7,457.1 109.6,457.5 113.6,460.1 117.5,463.3 121.5,462.2 125.4,463.3 129.3,464.6 133.3,457.1 137.2,457.1 141.2,460.6 145.1,462.2 149.5,453.2 153.0,455.1 157.4,455.1 161.7,450.4 165.6,451.9 169.6,453.8 173.5,457.0 181.3,457.1 184.8,455.4 189.2,455.4 193.6,447.2 197.0,448.3 201.3,451.1 205.0,443.3 208.9,440.6 212.9,440.4 217.3,439.0 221.2,434.3 225.5,436.5 229.4,439.3 233.4,437.4 237.6,441.4 241.2,433.8 245.2,432.5 249.1,433.3 253.4,436.5 257.0,429.9 261.4,423.5 265.2,434.9 269.3,437.3 273.6,439.3 277.5,437.4 281.2,438.5 285.1,430.6 289.0,429.4 293.0,435.1 296.9,436.5 301.2,433.8 305.1,431.4 309.1,437.4 313.3,434.9 317.3,433.5 321.7,436.6 325.6,438.2 329.3,439.3 333.5,436.5 337.5,436.5 341.4,438.5 345.7,434.3 350.1,434.3 353.2,433.3 357.1,444.8 361.4,446.4 365.3,452.3 369.2,452.4 373.7,455.4 377.6,455.4 381.5,446.4 386.0,445.3 389.4,438.2 392.9,437.4 397.3,441.4 401.3,441.4 405.2,437.4 409.6,440.4 413.9,439.0 417.8,438.2 421.8,438.5 425.7,441.4 429.7,438.2 433.6,439.3 438.0,442.5 441.5,443.3 446.2,443.3 449.7,445.3 453.3,433.3 457.3,432.2 461.2,431.1 465.1,433.0 469.4,436.5 473.8,432.2 477.4,433.8 480.9,440.9 485.6,453.5 489.6,453.5 493.2,446.4 497.5,449.1 501.4,450.7 505.4,455.4 510.9,455.4 515.6,457.5 521.1,459.5 529.7,459.5 533.7,461.4 541.6,461.4 545.2,457.5 549.4,439.0 553.4,444.4 565.2,444.4 569.2,441.7 573.1,438.5 577.0,439.3 581.0,433.3 585.3,432.2 589.4,434.3 593.1,432.2 597.1,430.2 601.5,429.4 605.1,436.5 608.9,434.3 613.3,438.5 617.3,436.2 621.5,427.5 625.6,431.4 629.1,430.2 633.0,429.4 637.3,427.2 641.7,431.4 645.7,433.5 649.6,432.2 654.0,434.3 657.5,434.3 661.9,430.2 665.4,432.2 669.3,444.4 673.6,451.6 677.2,439.3 681.2,440.1 685.6,444.4 689.8,443.3 693.8,445.6 697.7,448.3 701.7,447.2 709.8,453.5 713.4,452.3 717.4,457.5 721.6,454.3 725.6,447.2 729.5,447.5 733.4,446.1 737.9,448.3 741.3,447.2 745.7,454.0 749.7,456.2 753.6,458.2 757.6,459.0 761.5,465.3 765.5,463.5 770.2,463.3 775.7,461.4 781.2,462.2 785.2,455.1 789.6,450.0 793.5,440.4 797.8,446.4 801.7,445.3 805.4,446.4 809.3,444.0 813.6,446.1 817.0,447.5 821.1,444.8 824.6,443.3 829.3,444.4 833.3,443.3 837.2,435.4 841.6,431.1 845.1,432.5 849.1,432.5 853.8,428.3 857.7,427.0 864.0,423.5 871.1,422.8 876.7,421.2" fill="none" stroke="#1e90ff" stroke-width="1" shape-rendering="crispEdges"/>
<g shape-rendering="crispEdges">
<rect x="5" y="515" width="2" height="6" fill="#c0c0c0"/>
<rect x="8" y="515" width="3" height="6" fill="#c0c0c0"/>
<rect x="12" y="516" width="3" height="5" fill="#c0c0c0"/>
<rect x="16" y="515" width="3" height="6" fill="#c0c0c0"/>
<rect x="20" y="511" width="3" height="10" fill="#c0c0c0"/>
<rect x="24" y="509" width="3" height="12" fill="#c0c0c0"/>
<rect x="28" y="507" width="3" height="14" fill="#c0c0c0"/>
<rect x="32" y="505" width="3" height="16" fill="#c0c0c0"/>
<rect x="36" y="507" width="3" height="14" fill="#c0c0c0"/>
<rect x="40" y="512" width="3" height="9" fill="#c0c0c0"/>
<rect x="44" y="516" width="3" height="5" fill="#c0c0c0"/>
<rect x="48" y="521" width="3" height="2" fill="#c0c0c0"/>
<rect x="52" y="521" width="3" height="11" fill="#c0c0c0"/>
<rect x="56" y="521" width="3" height="18" fill="#c0c0c0"/>
<rect x="60" y="521" width="3" height="25" fill="#c0c0c0"/>
<rect x="64" y="521" width="3" height="28" fill="#c0c0c0"/>
<rect x="68" y="521" width="3" height="30" fill="#c0c0c0"/>
<rect x="72" y="521" width="3" height="29" fill="#c0c0c0"/>
<rect x="76" y="521" width="3" height="25" fill="#c0c0c0"/>
<rect x="80" y="521" width="3" height="20" fill="#c0c0c0"/>
<rect x="84" y="521" width="3" height="17" fill="#c0c0c0"/>
<rect x="88" y="521" width="3" height="14" fill="#c0c0c0"/>
<rect x="92" y="521" width="3" height="14" fill="#c0c0c0"/>
<rect x="96" y="521" width="3" height="20" fill="#c0c0c0"/>
<rect x="100" y="521" width="3" height="28" fill="#c0c0c0"/>
<rect x="104" y="521" width="3" height="32" fill="#c0c0c0"/>
<rect x="108" y="521" width="3" height="36" fill="#c0c0c0"/>
<rect x="112" y="521" width="3" height="41" fill="#c0c0c0"/>
<rect x="116" y="521" width="3" height="47" fill="#c0c0c0"/>
<rect x="120" y="521" width="3" height="50" fill="#c0c0c0"/>
<rect x="124" y="521" width="3" height="54" fill="#c0c0c0"/>
<rect x="128" y="521" width="3" height="57" fill="#c0c0c0"/>
<rect x="132" y="521" width="3" height="56" fill="#c0c0c0"/>
<rect x="136" y="521" width="3" height="56" fill="#c0c0c0"/>
<rect x="140" y="521" width="3" height="57" fill="#c0c0c0"/>
<rect x="144" y="521" width="3" height="58" fill="#c0c0c0"/>
<rect x="148" y="521" width="3" height="56" fill="#c0c0c0"/>
<rect x="152" y="521" width="3" height="54" fill="#c0c0c0"/>
<rect x="156" y="521" width="3" height="52" fill="#c0c0c0"/>
<rect x="160" y="521" width="3" height="49" fill="#c0c0c0"/>
<rect x="164" y="521" width="3" height="46" fill="#c0c0c0"/>
<rect x="168" y="521" width="3" height="45" fill="#c0c0c0"/>
<rect x="172" y="521" width="3" height="45" fill="#c0c0c0"/>
<rect x="176" y="521" width="3" height="46" fill="#c0c0c0"/>
<rect x="180" y="521" width="3" height="46" fill="#c0c0c0"/>
<rect x="184" y="521" width="3" height="45" fill="#c0c0c0"/>
<rect x="188" y="521" width="3" height="43" fill="#c0c0c0"/>
<rect x="192" y="521" width="3" height="39" fill="#c0c0c0"/>
<rect x="196" y="521" width="3" height="36" fill="#c0c0c0"/>
<rect x="200" y="521" width="3" height="34" fill="#c0c0c0"/>
<rect x="204" y="521" width="3" height="29" fill="#c0c0c0"/>
<rect x="208" y="521" width="3" height="24" fill="#c0c0c0"/>
<rect x="212" y="521" width="3" height="20" fill="#c0c0c0"/>
<rect x="216" y="521" width="3" height="16" fill="#c0c0c0"/>
<rect x="220" y="521" width="3" height="10" fill="#c0c0c0"/>
<rect x="224" y="521" width="3" height="6" fill="#c0c0c0"/>
<rect x="228" y="521" width="3" height="4" fill="#c0c0c0"/>
<rect x="232" y="521" width="3" height="2" fill="#c0c0c0"/>
<rect x="236" y="521" width="3" height="2" fill="#c0c0c0"/>
<rect x="240" y="517" width="3" height="4" fill="#c0c0c0"/>
<rect x="244" y="514" width="3" height="7" fill="#c0c0c0"/>
<rect x="248" y="511" width="3" height="10" fill="#c0c0c0"/>
<rect x="252" y="510" width="3" height="11" fill="#c0c0c0"/>
<rect x="256" y="507" width="3" height="14" fill="#c0c0c0"/>
<rect x="260" y="500" width="3" height="21" fill="#c0c0c0"/>
<rect x="264" y="499" width="3" height="22" fill="#c0c0c0"/>
<rect x="268" y="500" width="3" height="21" fill="#c0c0c0"/>
<rect x="272" y="502" width="3" height="19" fill="#c0c0c0"/>
<rect x="276" y="502" width="3" height="19" fill="#c0c0c0"/>
<rect x="280" y="504" width="3" height="17" fill="#c0c0c0"/>
<rect x="284" y="499" width="3" height="22" fill="#c0c0c0"/>
<rect x="288" y="496" width="3" height="25" fill="#c0c0c0"/>
<rect x="292" y="496" width="3" height="25" fill="#c0c0c0"/>
<rect x="296" y="497" width="3" height="24" fill="#c0c0c0"/>
<rect x="300" y="496" width="3" height="25" fill="#c0c0c0"/>
<rect x="304" y="494" width="3" height="27" fill="#c0c0c0"/>
<rect x="308" y="495" width="3" height="26" fill="#c0c0c0"/>
<rect x="312" y="496" width="3" height="25" fill="#c0c0c0"/>
<rect x="316" y="496" width="3" height="25" fill="#c0c0c0"/>
<rect x="320" y="497" width="3" height="24" fill="#c0c0c0"/>
<rect x="324" y="499" width="3" height="22" fill="#c0c0c0"/>
<rect x="328" y="501" width="3" height="20" fill="#c0c0c0"/>
<rect x="332" y="502" width="3" height="19" fill="#c0c0c0"/>
<rect x="336" y="502" width="3" height="19" fill="#c0c0c0"/>
<rect x="340" y="504" width="3" height="17" fill="#c0c0c0"/>
<rect x="344" y="503" width="3" height="18" fill="#c0c0c0"/>
<rect x="348" y="503" width="3" height="18" fill="#c0c0c0"/>
<rect x="352" y="502" width="3" height="19" fill="#c0c0c0"/>
<rect x="356" y="507" width="3" height="14" fill="#c0c0c0"/>
<rect x="360" y="511" width="3" height="10" fill="#c0c0c0"/>
<rect x="364" y="518" width="3" height="3" fill="#c0c0c0"/>
<rect x="368" y="521" width="3" height="4" fill="#c0c0c0"/>
<rect x="372" y="521" width="3" height="10" fill="#c0c0c0"/>
<rect x="376" y="521" width="3" height="15" fill="#c0c0c0"/>
<rect x="380" y="521" width="3" height="15" fill="#c0c0c0"/>
<rect x="384" y="521" width="3" height="14" fill="#c0c0c0"/>
<rect x="388" y="521" width="3" height="11" fill="#c0c0c0"/>
<rect x="392" y="521" width="3" height="6" fill="#c0c0c0"/>
<rect x="396" y="521" width="3" height="6" fill="#c0c0c0"/>
<rect x="400" y="521" width="3" height="4" fill="#c0c0c0"/>
<rect x="404" y="521" width="3" height="2" fill="#c0c0c0"/>
<rect x="408" y="520" width="3" height="1" fill="#c0c0c0"/>
<rect x="412" y="519" width="3" height="2" fill="#c0c0c0"/>
<rect x="416" y="518" width="3" height="3" fill="#c0c0c0"/>
<rect x="420" y="517" width="3" height="4" fill="#c0c0c0"/>
<rect x="424" y="517" width="3" height="4" fill="#c0c0c0"/>
<rect x="428" y="516" width="3" height="5" fill="#c0c0c0"/>
<rect x="432" y="516" width="3" height="5" fill="#c0c0c0"/>
<rect x="436" y="517" width="3" height="4" fill="#c0c0c0"/>
<rect x="440" y="518" width="3" height="3" fill="#c0c0c0"/>
<rect x="444" y="519" width="3" height="2" fill="#c0c0c0"/>
<rect x="448" y="520" width="3" height="1" fill="#c0c0c0"/>
<rect x="452" y="518" width="3" height="3" fill="#c0c0c0"/>
<rect x="456" y="514" width="3" height="7" fill="#c0c0c0"/>
<rect x="460" y="511" width="3" height="10" fill="#c0c0c0"/>
<rect x="464" y="510" width="3" height="11" fill="#c0c0c0"/>
<rect x="468" y="509" width="3" height="12" fill="#c0c0c0"/>
<rect x="472" y="508" width="3" height="13" fill="#c0c0c0"/>
<rect x="476" y="507" width="3" height="14" fill="#c0c0c0"/>
<rect x="480" y="510" width="3" height="11" fill="#c0c0c0"/>
<rect x="484" y="517" width="3" height="4" fill="#c0c0c0"/>
<rect x="488" y="521" width="3" height="3" fill="#c0c0c0"/>
<rect x="492" y="521" width="3" height="4" fill="#c0c0c0"/>
<rect x="496" y="521" width="3" height="8" fill="#c0c0c0"/>
<rect x="500" y="521" width="3" height="11" fill="#c0c0c0"/>
<rect x="504" y="521" width="3" height="16" fill="#c0c0c0"/>
<rect x="508" y="521" width="3" height="20" fill="#c0c0c0"/>
<rect x="512" y="521" width="3" height="23" fill="#c0c0c0"/>
<rect x="516" y="521" width="3" height="26" fill="#c0c0c0"/>
<rect x="520" y="521" width="3" height="30" fill="#c0c0c0"/>
<rect x="524" y="521" width="3" height="32" fill="#c0c0c0"/>
<rect x="528" y="521" width="3" height="34" fill="#c0c0c0"/>
<rect x="532" y="521" width="3" height="36" fill="#c0c0c0"/>
<rect x="536" y="521" width="3" height="38" fill="#c0c0c0"/>
<rect x="540" y="521" width="3" height="38" fill="#c0c0c0"/>
<rect x="544" y="521" width="3" height="37" fill="#c0c0c0"/>
<rect x="548" y="521" width="3" height="30" fill="#c0c0c0"/>
<rect x="552" y="521" width="3" height="26" fill="#c0c0c0"/>
<rect x="556" y="521" width="3" height="24" fill="#c0c0c0"/>
<rect x="560" y="521" width="3" height="20" fill="#c0c0c0"/>
<rect x="564" y="521" width="3" height="19" fill="#c0c0c0"/>
<rect x="568" y="521" width="3" height="16" fill="#c0c0c0"/>
<rect x="572" y="521" width="3" height="13" fill="#c0c0c0"/>
<rect x="576" y="521" width="3" height="10" fill="#c0c0c0"/>
<rect x="580" y="521" width="3" height="6" fill="#c0c0c0"/>
<rect x="584" y="521" width="3" height="2" fill="#c0c0c0"/>
<rect x="588" y="518" width="3" height="3" fill="#c0c0c0"/>
<rect x="592" y="515" width="3" height="6" fill="#c0c0c0"/>
<rect x="596" y="513" width="3" height="8" fill="#c0c0c0"/>
<rect x="600" y="510" width="3" height="11" fill="#c0c0c0"/>
<rect x="604" y="510" width="3" height="11" fill="#c0c0c0"/>
<rect x="608" y="509" width="3" height="12" fill="#c0c0c0"/>
<rect x="612" y="509" width="3" height="12" fill="#c0c0c0"/>
<rect x="616" y="509" width="3" height="12" fill="#c0c0c0"/>
<rect x="620" y="506" width="3" height="15" fill="#c0c0c0"/>
<rect x="624" y="504" width="3" height="17" fill="#c0c0c0"/>
<rect x="628" y="502" width="3" height="19" fill="#c0c0c0"/>
<rect x="632" y="501" width="3" height="20" fill="#c0c0c0"/>
<rect x="636" y="499" width="3" height="22" fill="#c0c0c0"/>
<rect x="640" y="499" width="3" height="22" fill="#c0c0c0"/>
<rect x="644" y="499" width="3" height="22" fill="#c0c0c0"/>
<rect x="648" y="500" width="3" height="21" fill="#c0c0c0"/>
<rect x="652" y="501" width="3" height="20" fill="#c0c0c0"/>
<rect x="656" y="501" width="3" height="20" fill="#c0c0c0"/>
<rect x="660" y="501" width="3" height="20" fill="#c0c0c0"/>
<rect x="664" y="502" width="3" height="19" fill="#c0c0c0"/>
<rect x="668" y="506" width="3" height="15" fill="#c0c0c0"/>
<rect x="672" y="512" width="3" height="9" fill="#c0c0c0"/>
<rect x="676" y="512" width="3" height="9" fill="#c0c0c0"/>
<rect x="680" y="513" width="3" height="8" fill="#c0c0c0"/>
<rect x="684" y="515" width="3" height="6" fill="#c0c0c0"/>
<rect x="688" y="517" width="3" height="4" fill="#c0c0c0"/>
<rect x="692" y="519" width="3" height="2" fill="#c0c0c0"/>
<rect x="696" y="521" width="3" height="3" fill="#c0c0c0"/>
<rect x="700" y="521" width="3" height="4" fill="#c0c0c0"/>
<rect x="704" y="521" width="3" height="8" fill="#c0c0c0"/>
<rect x="708" y="521" width="3" height="11" fill="#c0c0c0"/>
<rect x="712" y="521" width="3" height="14" fill="#c0c0c0"/>
<rect x="716" y="521" width="3" height="18" fill="#c0c0c0"/>
<rect x="720" y="521" width="3" height="20" fill="#c0c0c0"/>
<rect x="724" y="521" width="3" height="19" fill="#c0c0c0"/>
<rect x="728" y="521" width="3" height="19" fill="#c0c0c0"/>
<rect x="732" y="521" width="3" height="18" fill="#c0c0c0"/>
<rect x="736" y="521" width="3" height="18" fill="#c0c0c0"/>
<rect x="740" y="521" width="3" height="17" fill="#c0c0c0"/>
<rect x="744" y="521" width="3" height="19" fill="#c0c0c0"/>
<rect x="748" y="521" width="3" height="20" fill="#c0c0c0"/>
<rect x="752" y="521" width="3" height="24" fill="#c0c0c0"/>
<rect x="756" y="521" width="3" height="27" fill="#c0c0c0"/>
<rect x="760" y="521" width="3" height="34" fill="#c0c0c0"/>
<rect x="764" y="521" width="3" height="38" fill="#c0c0c0"/>
<rect x="768" y="521" width="3" height="41" fill="#c0c0c0"/>
<rect x="772" y="521" width="3" height="43" fill="#c0c0c0"/>
<rect x="776" y="521" width="3" height="44" fill="#c0c0c0"/>
<rect x="780" y="521" width="3" height="44" fill="#c0c0c0"/>
<rect x="784" y="521" width="3" height="42" fill="#c0c0c0"/>
<rect x="788" y="521" width="3" height="38" fill="#c0c0c0"/>
<rect x="792" y="521" width="3" height="33" fill="#c0c0c0"/>
<rect x="796" y="521" width="3" height="30" fill="#c0c0c0"/>
<rect x="800" y="521" width="3" height="26" fill="#c0c0c0"/>
<rect x="804" y="521" width="3" height="25" fill="#c0c0c0"/>
<rect x="808" y="521" width="3" height="22" fill="#c0c0c0"/>
<rect x="812" y="521" width="3" height="20" fill="#c0c0c0"/>
<rect x="816" y="521" width="3" height="19" fill="#c0c0c0"/>
<rect x="820" y="521" width="3" height="18" fill="#c0c0c0"/>
<rect x="824" y="521" width="3" height="16" fill="#c0c0c0"/>
<rect x="828" y="521" width="3" height="14" fill="#c0c0c0"/>
<rect x="832" y="521" width="3" height="13" fill="#c0c0c0"/>
<rect x="836" y="521" width="3" height="9" fill="#c0c0c0"/>
<rect x="840" y="521" width="3" height="4" fill="#c0c0c0"/>
<rect x="844" y="519" width="3" height="2" fill="#c0c0c0"/>
<rect x="848" y="516" width="3" height="5" fill="#c0c0c0"/>
<rect x="852" y="512" width="3" height="9" fill="#c0c0c0"/>
<rect x="856" y="509" width="3" height="12" fill="#c0c0c0"/>
<rect x="860" y="505" width="3" height="16" fill="#c0c0c0"/>
<rect x="864" y="501" width="3" height="20" fill="#c0c0c0"/>
<rect x="868" y="498" width="3" height="23" fill="#c0c0c0"/>
<rect x="872" y="496" width="3" height="25" fill="#c0c0c0"/>
<rect x="876" y="494" width="3" height="27" fill="#c0c0c0"/>
</g>
<polyline points="5.5,513.4 12.6,514.5 25.2,514.2 36.3,511.3 50.5,511.3 55.2,514.2 63.0,521.3 69.4,529.2 75.7,536.3 82.0,540.2 89.0,542.3 94.6,541.3 107.3,541.3 113.6,544.1 121.5,551.2 129.3,559.9 135.6,565.4 142.0,569.4 149.0,574.1 157.7,575.2 165.6,573.3 173.5,571.0 180.0,568.8 189.2,566.2 205.0,560.4 216.0,552.0 225.5,542.6 235.0,533.1 244.4,526.0 252.3,520.5 258.6,516.5 265.0,511.3 272.8,507.1 282.3,503.1 291.7,500.3 301.2,499.2 309.0,497.6 317.0,496.4 326.4,496.4 334.3,497.6 342.2,499.5 348.5,501.2 355.5,501.4 362.6,504.7 370.5,509.1 376.8,514.5 383.1,520.0 389.4,524.4 395.7,527.6 401.3,529.5 408.4,527.6 414.7,525.5 421.0,522.4 428.9,520.2 436.8,518.4 452.5,518.4 460.4,517.3 469.9,515.0 479.3,512.6 485.6,511.3 492.0,512.6 499.8,515.8 507.7,522.0 515.6,530.0 523.5,537.0 531.3,544.9 539.2,550.0 547.0,553.1 553.4,553.6 561.3,551.2 570.7,546.5 580.2,539.4 589.7,531.5 599.1,523.6 607.0,518.1 614.9,513.9 624.4,509.4 632.3,507.6 640.1,504.4 649.6,502.0 659.0,500.8 667.0,500.5 674.8,503.1 682.7,505.8 690.6,509.4 698.5,514.2 705.0,517.8 712.6,521.3 720.5,528.4 734.7,534.7 745.7,537.5 755.2,538.6 763.1,542.6 772.6,548.1 780.4,554.4 786.0,557.6 793.8,559.1 800.9,557.6 810.4,552.5 819.9,546.5 827.8,541.0 840.4,534.7 851.4,527.6 860.9,520.5 870.3,511.0 876.7,506.0" fill="none" stroke="#ff0000" stroke-width="1" shape-rendering="crispEdges"/>
<g shape-rendering="crispEdges">
<rect x="1108" y="28" width="2" height="1" fill="#000"/>
<rect x="1108" y="61" width="2" height="1" fill="#000"/>
<rect x="1108" y="94" width="2" height="1" fill="#000"/>
<rect x="1108" y="127" width="2" height="1" fill="#000"/>
<rect x="1108" y="160" width="2" height="1" fill="#000"/>
<rect x="1108" y="193" width="2" height="1" fill="#000"/>
<rect x="1108" y="226" width="2" height="1" fill="#000"/>
<rect x="1108" y="259" width="2" height="1" fill="#000"/>
<rect x="1108" y="292" width="2" height="1" fill="#000"/>
<rect x="1108" y="325" width="2" height="1" fill="#000"/>
<rect x="1108" y="358" width="2" height="1" fill="#000"/>
<rect x="1108" y="391" width="2" height="1" fill="#000"/>
</g>
<text x="1113.5" y="32" font-size="9.7" fill="#000" stroke="#000" stroke-width="0.12" textLength="32" lengthAdjust="spacingAndGlyphs">1.35875</text>
<text x="1113.5" y="65" font-size="9.7" fill="#000" stroke="#000" stroke-width="0.12" textLength="32" lengthAdjust="spacingAndGlyphs">1.35275</text>
<text x="1113.5" y="98" font-size="9.7" fill="#000" stroke="#000" stroke-width="0.12" textLength="32" lengthAdjust="spacingAndGlyphs">1.34690</text>
<text x="1113.5" y="131" font-size="9.7" fill="#000" stroke="#000" stroke-width="0.12" textLength="32" lengthAdjust="spacingAndGlyphs">1.34105</text>
<text x="1113.5" y="164" font-size="9.7" fill="#000" stroke="#000" stroke-width="0.12" textLength="32" lengthAdjust="spacingAndGlyphs">1.33520</text>
<text x="1113.5" y="197" font-size="9.7" fill="#000" stroke="#000" stroke-width="0.12" textLength="32" lengthAdjust="spacingAndGlyphs">1.32920</text>
<text x="1113.5" y="230" font-size="9.7" fill="#000" stroke="#000" stroke-width="0.12" textLength="32" lengthAdjust="spacingAndGlyphs">1.32335</text>
<text x="1113.5" y="263" font-size="9.7" fill="#000" stroke="#000" stroke-width="0.12" textLength="32" lengthAdjust="spacingAndGlyphs">1.31750</text>
<text x="1113.5" y="296" font-size="9.7" fill="#000" stroke="#000" stroke-width="0.12" textLength="32" lengthAdjust="spacingAndGlyphs">1.31165</text>
<text x="1113.5" y="329" font-size="9.7" fill="#000" stroke="#000" stroke-width="0.12" textLength="32" lengthAdjust="spacingAndGlyphs">1.30565</text>
<text x="1113.5" y="362" font-size="9.7" fill="#000" stroke="#000" stroke-width="0.12" textLength="32" lengthAdjust="spacingAndGlyphs">1.29980</text>
<text x="1113.5" y="395" font-size="9.7" fill="#000" stroke="#000" stroke-width="0.12" textLength="32" lengthAdjust="spacingAndGlyphs">1.29395</text>
<rect x="1109" y="116" width="40" height="11" fill="#ff0000" shape-rendering="crispEdges"/>
<text x="1113.5" y="125" font-size="9.7" fill="#fff" stroke="#fff" stroke-width="0.12" textLength="32" lengthAdjust="spacingAndGlyphs">1.34197</text>
<rect x="1109" y="199" width="40" height="11" fill="#ff0000" shape-rendering="crispEdges"/>
<text x="1113.5" y="208" font-size="9.7" fill="#fff" stroke="#fff" stroke-width="0.12" textLength="32" lengthAdjust="spacingAndGlyphs">1.32713</text>
<rect x="1109" y="216" width="40" height="11" fill="#000" shape-rendering="crispEdges"/>
<text x="1113.5" y="225" font-size="9.7" fill="#fff" stroke="#fff" stroke-width="0.12" textLength="32" lengthAdjust="spacingAndGlyphs">1.32426</text>
<rect x="1109" y="272" width="40" height="11" fill="#32cd32" shape-rendering="crispEdges"/>
<text x="1113.5" y="281" font-size="9.7" fill="#fff" stroke="#fff" stroke-width="0.12" textLength="32" lengthAdjust="spacingAndGlyphs">1.31407</text>
<rect x="1109" y="342" width="40" height="11" fill="#0000cd" shape-rendering="crispEdges"/>
<text x="1113.5" y="351" font-size="9.7" fill="#fff" stroke="#fff" stroke-width="0.12" textLength="32" lengthAdjust="spacingAndGlyphs">1.30155</text>
<g shape-rendering="crispEdges">
<rect x="1107" y="221" width="2" height="1" fill="#fff"/>
<rect x="1108" y="398" width="1" height="1" fill="#000"/>
<rect x="1108" y="424" width="1" height="1" fill="#000"/>
<rect x="1108" y="459" width="1" height="1" fill="#000"/>
<rect x="1108" y="485" width="1" height="1" fill="#000"/>
<rect x="1108" y="490" width="1" height="1" fill="#000"/>
<rect x="1108" y="521" width="1" height="1" fill="#000"/>
<rect x="1108" y="581" width="1" height="1" fill="#000"/>
</g>
<text x="1111.4" y="406.8" font-size="9.7" fill="#000" stroke="#000" stroke-width="0.12" textLength="14.2" lengthAdjust="spacingAndGlyphs">100</text>
<text x="1110.8" y="427.8" font-size="9.7" fill="#000" stroke="#000" stroke-width="0.12" textLength="9.2" lengthAdjust="spacingAndGlyphs">70</text>
<text x="1110.8" y="462.4" font-size="9.7" fill="#000" stroke="#000" stroke-width="0.12" textLength="9.2" lengthAdjust="spacingAndGlyphs">30</text>
<text x="1111.2" y="482.8" font-size="9.7" fill="#000" stroke="#000" stroke-width="0.12">0</text>
<text x="1111.1" y="498.6" font-size="9.7" fill="#000" stroke="#000" stroke-width="0.12" textLength="37.5" lengthAdjust="spacingAndGlyphs">0.004581</text>
<text x="1111.1" y="524.5" font-size="9.7" fill="#000" stroke="#000" stroke-width="0.12" textLength="17.5" lengthAdjust="spacingAndGlyphs">0.00</text>
<text x="1111" y="578.3" font-size="9.7" fill="#000" stroke="#000" stroke-width="0.12" textLength="40.5" lengthAdjust="spacingAndGlyphs">-0.008894</text>
<path d="M8 29 L15.6 29 L11.8 33 Z" fill="#000"/>
<text x="20.5" y="34" font-size="9.7" fill="#000" stroke="#000" stroke-width="0.12" textLength="65" lengthAdjust="spacingAndGlyphs">USDCAD,Daily</text>
<text x="92.5" y="34" font-size="9.7" fill="#000" stroke="#000" stroke-width="0.12" textLength="32" lengthAdjust="spacingAndGlyphs">1.32354</text>
<text x="128.4" y="34" font-size="9.7" fill="#000" stroke="#000" stroke-width="0.12" textLength="32" lengthAdjust="spacingAndGlyphs">1.32488</text>
<text x="164.3" y="34" font-size="9.7" fill="#000" stroke="#000" stroke-width="0.12" textLength="32" lengthAdjust="spacingAndGlyphs">1.32354</text>
<text x="200.2" y="34" font-size="9.7" fill="#000" stroke="#000" stroke-width="0.12" textLength="32" lengthAdjust="spacingAndGlyphs">1.32426</text>
<text x="9.5" y="408" font-size="9.7" fill="#000" stroke="#000" stroke-width="0.12" textLength="67.3" lengthAdjust="spacingAndGlyphs">RSI(14) 73.5357</text>
<text x="9.5" y="500.8" font-size="9.7" fill="#000" stroke="#000" stroke-width="0.12" textLength="147.5" lengthAdjust="spacingAndGlyphs">MACD(12,26,9) 0.003969 0.002243</text>
<text x="14.7" y="10" font-size="10" fill="#333" stroke="#333" stroke-width="0" textLength="12.3" lengthAdjust="spacingAndGlyphs">H4</text>
<text x="43.5" y="10" font-size="10" fill="#333" stroke="#333" stroke-width="0" textLength="11.5" lengthAdjust="spacingAndGlyphs">D1</text>
<text x="71.2" y="10" font-size="10" fill="#333" stroke="#333" stroke-width="0" textLength="14" lengthAdjust="spacingAndGlyphs">W1</text>
<text x="97.8" y="10" font-size="10" fill="#333" stroke="#333" stroke-width="0" textLength="14.6" lengthAdjust="spacingAndGlyphs">MN</text>
<g shape-rendering="crispEdges">
<rect x="5" y="583" width="1" height="3" fill="#000"/>
<rect x="69" y="583" width="1" height="3" fill="#000"/>
<rect x="133" y="583" width="1" height="3" fill="#000"/>
<rect x="197" y="583" width="1" height="3" fill="#000"/>
<rect x="261" y="583" width="1" height="3" fill="#000"/>
<rect x="325" y="583" width="1" height="3" fill="#000"/>
<rect x="389" y="583" width="1" height="3" fill="#000"/>
<rect x="453" y="583" width="1" height="3" fill="#000"/>
<rect x="517" y="583" width="1" height="3" fill="#000"/>
<rect x="581" y="583" width="1" height="3" fill="#000"/>
<rect x="645" y="583" width="1" height="3" fill="#000"/>
<rect x="709" y="583" width="1" height="3" fill="#000"/>
<rect x="773" y="583" width="1" height="3" fill="#000"/>
<rect x="837" y="583" width="1" height="3" fill="#000"/>
</g>
<text x="4.3" y="594" font-size="9.7" fill="#000" stroke="#000" stroke-width="0.12" textLength="54.4" lengthAdjust="spacingAndGlyphs">24 May 2019</text>
<text x="68.3" y="594" font-size="9.7" fill="#000" stroke="#000" stroke-width="0.12" textLength="49.6" lengthAdjust="spacingAndGlyphs">12 Jun 2019</text>
<text x="132.3" y="594" font-size="9.7" fill="#000" stroke="#000" stroke-width="0.12" textLength="41.3" lengthAdjust="spacingAndGlyphs">1 Jul 2019</text>
<text x="196.3" y="594" font-size="9.7" fill="#000" stroke="#000" stroke-width="0.12" textLength="46" lengthAdjust="spacingAndGlyphs">19 Jul 2019</text>
<text x="260.3" y="594" font-size="9.7" fill="#000" stroke="#000" stroke-width="0.12" textLength="47" lengthAdjust="spacingAndGlyphs">7 Aug 2019</text>
<text x="324.3" y="594" font-size="9.7" fill="#000" stroke="#000" stroke-width="0.12" textLength="53" lengthAdjust="spacingAndGlyphs">26 Aug 2019</text>
<text x="388.3" y="594" font-size="9.7" fill="#000" stroke="#000" stroke-width="0.12" textLength="51.8" lengthAdjust="spacingAndGlyphs">13 Sep 2019</text>
<text x="452.3" y="594" font-size="9.7" fill="#000" stroke="#000" stroke-width="0.12" textLength="45.7" lengthAdjust="spacingAndGlyphs">2 Oct 2019</text>
<text x="516.3" y="594" font-size="9.7" fill="#000" stroke="#000" stroke-width="0.12" textLength="50" lengthAdjust="spacingAndGlyphs">21 Oct 2019</text>
<text x="580.3" y="594" font-size="9.7" fill="#000" stroke="#000" stroke-width="0.12" textLength="48.7" lengthAdjust="spacingAndGlyphs">8 Nov 2019</text>
<text x="644.3" y="594" font-size="9.7" fill="#000" stroke="#000" stroke-width="0.12" textLength="53.4" lengthAdjust="spacingAndGlyphs">27 Nov 2019</text>
<text x="708.3" y="594" font-size="9.7" fill="#000" stroke="#000" stroke-width="0.12" textLength="51" lengthAdjust="spacingAndGlyphs">16 Dec 2019</text>
<text x="772.3" y="594" font-size="9.7" fill="#000" stroke="#000" stroke-width="0.12" textLength="44" lengthAdjust="spacingAndGlyphs">3 Jan 2020</text>
<text x="836.3" y="594" font-size="9.7" fill="#000" stroke="#000" stroke-width="0.12" textLength="48.7" lengthAdjust="spacingAndGlyphs">22 Jan 2020</text>
<g shape-rendering="crispEdges">
<rect x="0" y="603" width="1149" height="1" fill="#e3e3e3"/>
<rect x="0" y="606" width="1149" height="15" fill="#f0f0f0"/>
<rect x="0" y="605" width="1149" height="1" fill="#000"/>
<rect x="315" y="604" width="102" height="17" fill="#fff"/>
<rect x="314" y="605" width="1" height="16" fill="#000"/>
<rect x="417" y="605" width="1" height="16" fill="#000"/>
<rect x="2" y="605" width="1" height="16" fill="#696969"/>
<rect x="110" y="608" width="1" height="13" fill="#404040"/>
<rect x="214" y="608" width="1" height="13" fill="#404040"/>
<rect x="522" y="608" width="1" height="13" fill="#404040"/>
<rect x="611" y="608" width="1" height="13" fill="#404040"/>
<rect x="701" y="608" width="1" height="13" fill="#404040"/>
<rect x="793" y="608" width="1" height="13" fill="#404040"/>
</g>
<text x="18.8" y="619" font-size="11.8" fill="#7a7a7a" stroke="#7a7a7a" stroke-width="0" textLength="78.7" lengthAdjust="spacingAndGlyphs">EURUSD,Daily</text>
<text x="121" y="619" font-size="11.8" fill="#7a7a7a" stroke="#7a7a7a" stroke-width="0" textLength="82.2" lengthAdjust="spacingAndGlyphs">AUDUSD,Daily</text>
<text x="224" y="619" font-size="11.8" fill="#7a7a7a" stroke="#7a7a7a" stroke-width="0" textLength="79.3" lengthAdjust="spacingAndGlyphs">USDCHF,Daily</text>
<text x="325.5" y="619" font-size="11.8" fill="#000" stroke="#000" stroke-width="0" textLength="80.4" lengthAdjust="spacingAndGlyphs">USDCAD,Daily</text>
<text x="428.3" y="619" font-size="11.8" fill="#7a7a7a" stroke="#7a7a7a" stroke-width="0" textLength="82.7" lengthAdjust="spacingAndGlyphs">USDCNH,Daily</text>
<text x="532.7" y="619" font-size="11.8" fill="#7a7a7a" stroke="#7a7a7a" stroke-width="0" textLength="66.2" lengthAdjust="spacingAndGlyphs">EURGBP,H4</text>
<text x="621" y="619" font-size="11.8" fill="#7a7a7a" stroke="#7a7a7a" stroke-width="0" textLength="69.3" lengthAdjust="spacingAndGlyphs">NZDUSD,H1</text>
<text x="714.2" y="619" font-size="11.8" fill="#7a7a7a" stroke="#7a7a7a" stroke-width="0" textLength="67.8" lengthAdjust="spacingAndGlyphs">GBPUSD,H4</text>
<path d="M1123 614 L1126 611 L1126 617 Z" fill="#a0a0a0"/>
<path d="M1145 614 L1142 611 L1142 617 Z" fill="#a0a0a0"/>
</svg></body></html>
